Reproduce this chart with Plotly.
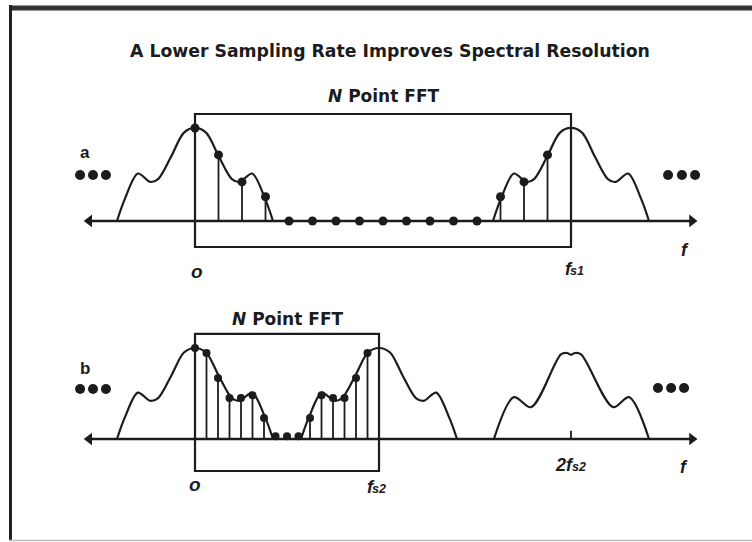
import plotly.graph_objects as go

# ---------------- data ----------------
N = 16
fs1 = 16.0          # panel a sampling rate (frequency units)
fs2 = 7.83          # panel b sampling rate (about fs1 / 2, as drawn)
f_alias = 16.0      # centre of the image drawn at 2fs2 in panel b

# spectral shape (frequency offset from image centre, relative magnitude)
shape_df = [-3.32, -2.98, -2.43, -1.91, -1.57, -1.02, -0.47, 0.0, 0.47, 1.02, 1.57, 1.91, 2.43, 2.98, 3.32]
shape_h = [0.0, 0.24, 0.51, 0.42, 0.45, 0.69, 0.95, 1.0, 0.95, 0.69, 0.45, 0.42, 0.51, 0.24, 0.0]

# image centred on 2fs2 in panel b (drawn slightly differently)
alias_df = [-3.28, -2.43, -1.70, -0.43, -0.17, 0.0, 0.17, 0.43, 1.79, 2.47, 3.32]
alias_h = [0.0, 0.46, 0.35, 0.93, 0.945, 0.925, 0.945, 0.93, 0.35, 0.46, 0.0]

images_a = [0.0, fs1]            # spectral images in panel a
images_b = [0.0, fs2]            # spectral images in panel b (plus alias at 2fs2)

samples_a = [1.0, 0.71, 0.42, 0.26, 0, 0, 0, 0, 0, 0, 0, 0, 0, 0.26, 0.42, 0.71]
samples_b = [1.0, 0.945, 0.67, 0.45, 0.45, 0.48, 0.23, 0.03, 0.03, 0.03, 0.23, 0.48, 0.45, 0.45, 0.67, 0.945]

title_text = "A Lower Sampling Rate Improves Spectral Resolution"
fft_text = "<i>N</i> Point FFT"

# ---------------- styles / geometry ----------------
INK = "#1c1c1c"
W, H = 752, 542
X_RANGE = [-8.298, 23.702]
YA_RANGE = [-3.452, 2.376]
YB_RANGE = [-1.132, 4.824]
AX_L, AX_R = -4.5, 21.15

fig = go.Figure()


def add_panel(yref, samples, fs, images, extra=None, dot=9):
    dt = fs / N
    for c in images:
        fig.add_trace(go.Scatter(x=[c + d for d in shape_df], y=shape_h, mode="lines",
                                 line=dict(color=INK, width=2.2, shape="spline", smoothing=0.9),
                                 yaxis=yref, hoverinfo="skip"))
    if extra is not None:
        c, dfs, hs = extra
        fig.add_trace(go.Scatter(x=[c + d for d in dfs], y=hs, mode="lines",
                                 line=dict(color=INK, width=2.2, shape="spline", smoothing=0.9),
                                 yaxis=yref, hoverinfo="skip"))
    # frequency axis with arrowheads
    fig.add_trace(go.Scatter(x=[AX_L, AX_R], y=[0, 0], mode="lines",
                             line=dict(color=INK, width=2.5), yaxis=yref, hoverinfo="skip"))
    fig.add_trace(go.Scatter(x=[AX_L, AX_R], y=[0, 0], mode="markers",
                             marker=dict(symbol=["triangle-left", "triangle-right"], size=11, color=INK),
                             yaxis=yref, hoverinfo="skip"))
    # stems and sample dots
    sx, sy = [], []
    for k, h in enumerate(samples):
        sx += [k * dt, k * dt, None]
        sy += [0, h, None]
    fig.add_trace(go.Scatter(x=sx, y=sy, mode="lines", line=dict(color=INK, width=1.8),
                             yaxis=yref, hoverinfo="skip"))
    fig.add_trace(go.Scatter(x=[k * dt for k in range(N)], y=samples, mode="markers",
                             marker=dict(size=dot, color=INK),
                             yaxis=yref, hoverinfo="skip"))


add_panel("y", samples_a, fs1, images_a, dot=9)
add_panel("y2", samples_b, fs2, images_b, extra=(f_alias, alias_df, alias_h), dot=8)

# tick at 2fs2
fig.add_trace(go.Scatter(x=[f_alias, f_alias], y=[0, 0.09], mode="lines",
                         line=dict(color=INK, width=1.8), yaxis="y2", hoverinfo="skip"))

# continuation dots ("...") at both ends of each axis
fig.add_trace(go.Scatter(x=[-4.89, -4.34, -3.79, 20.13, 20.72, 21.28], y=[0.495] * 6, mode="markers",
                         marker=dict(size=10, color=INK), yaxis="y", hoverinfo="skip"))
fig.add_trace(go.Scatter(x=[-4.89, -4.34, -3.79, 19.70, 20.26, 20.81], y=[0.55] * 3 + [0.56] * 3,
                         mode="markers", marker=dict(size=10, color=INK), yaxis="y2", hoverinfo="skip"))

# FFT windows
fig.add_shape(type="rect", xref="x", yref="y", x0=0, x1=fs1, y0=-0.28, y1=1.15,
              line=dict(color=INK, width=2.2))
fig.add_shape(type="rect", xref="x", yref="y2", x0=0, x1=fs2, y0=-0.352, y1=1.154,
              line=dict(color=INK, width=2.2))

# outer frame
fig.add_shape(type="line", xref="paper", yref="paper", x0=9 / W, x1=1, y0=1 - 8 / H, y1=1 - 8 / H,
              line=dict(color="#333", width=5))
fig.add_shape(type="line", xref="paper", yref="paper", x0=10.5 / W, x1=10.5 / W, y0=1 - 5 / H, y1=1 - 541 / H,
              line=dict(color="#222", width=3))
fig.add_shape(type="line", xref="paper", yref="paper", x0=9 / W, x1=1, y0=1 - 540.5 / H, y1=1 - 540.5 / H,
              line=dict(color="#bbb", width=1.5))

HEAD = dict(family="DejaVu Sans", color=INK, weight="bold")
LBL = dict(family="Liberation Sans", color=INK, weight="bold")
LBLI = dict(family="Liberation Sans", color=INK, weight="bold", style="italic")
ann = []
ann.append(dict(text=title_text, xref="paper", yref="paper", x=390 / W, y=1 - 51 / H,
                font=dict(size=17.3, **HEAD)))
# panel a
ann.append(dict(text=fft_text, xref="x", yref="y", x=fs1 / 2, y=1.344, font=dict(size=17, **HEAD)))
ann.append(dict(text="a", xref="x", yref="y", x=-4.68, y=0.731, font=dict(size=17, **LBL)))
ann.append(dict(text="o", xref="x", yref="y", x=0.085, y=-0.548, font=dict(size=19, **LBLI)))
ann.append(dict(text="f", xref="x", yref="y", x=fs1 - 0.07, y=-0.515, font=dict(size=18, **LBLI)))
ann.append(dict(text="s1", xref="x", yref="y", x=fs1 + 0.27, y=-0.543, font=dict(size=12.5, **LBLI)))
ann.append(dict(text="f", xref="x", yref="y", x=20.85, y=-0.312, font=dict(size=18, **LBLI)))
# panel b
ann.append(dict(text=fft_text, xref="x", yref="y2", x=fs2 / 2, y=1.319, font=dict(size=17, **HEAD)))
ann.append(dict(text="b", xref="x", yref="y2", x=-4.68, y=0.78, font=dict(size=17, **LBL)))
ann.append(dict(text="o", xref="x", yref="y2", x=0.0, y=-0.505, font=dict(size=19, **LBLI)))
ann.append(dict(text="f", xref="x", yref="y2", x=fs2 - 0.36, y=-0.527, font=dict(size=18, **LBLI)))
ann.append(dict(text="s2", xref="x", yref="y2", x=fs2 + 0.0, y=-0.55, font=dict(size=12.5, **LBLI)))
ann.append(dict(text="2f", xref="x", yref="y2", x=f_alias - 0.28, y=-0.286, font=dict(size=18, **LBLI)))
ann.append(dict(text="s2", xref="x", yref="y2", x=f_alias + 0.33, y=-0.313, font=dict(size=12.5, **LBLI)))
ann.append(dict(text="f", xref="x", yref="y2", x=20.81, y=-0.308, font=dict(size=18, **LBLI)))
for a in ann:
    a.update(showarrow=False, xanchor="center", yanchor="middle")

fig.update_layout(
    width=W, height=H, margin=dict(l=0, r=0, t=0, b=0),
    paper_bgcolor="white", plot_bgcolor="white", showlegend=False,
    xaxis=dict(range=X_RANGE, visible=False, fixedrange=True),
    yaxis=dict(range=YA_RANGE, visible=False, fixedrange=True, domain=[0, 1]),
    yaxis2=dict(range=YB_RANGE, visible=False, fixedrange=True, overlaying="y"),
    annotations=ann,
)

fig.write_html("out.html", config={"displayModeBar": False},
               post_script="document.body.style.margin='0';document.body.style.overflow='hidden';")
